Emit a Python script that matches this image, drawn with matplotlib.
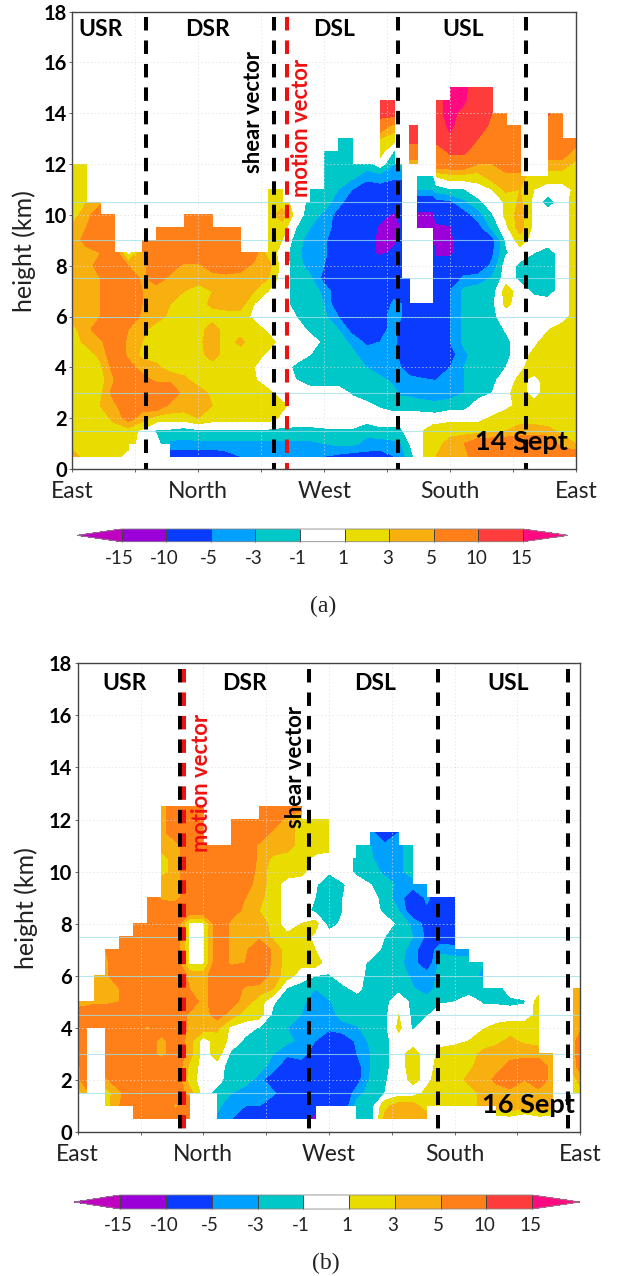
import numpy as np
import matplotlib
matplotlib.use('Agg')
import matplotlib.pyplot as plt
from matplotlib.transforms import ScaledTranslation

plt.rcParams['font.family'] = ['Lato', 'DejaVu Sans']
plt.rcParams['lines.scale_dashes'] = False

N = np.nan

# colour classes of the radial wind anomaly
levels = [-15, -10, -5, -3, -1, 1, 3, 5, 10, 15]
level_labels = ['-15', '-10', '-5', '-3', '-1', '1', '3', '5', '10', '15']
colors = ['#C000C0', '#9B00D8', '#0A3CFF', '#00A0FF', '#00C8C8', '#FFFFFF',
          '#E8DC00', '#F8B010', '#FF8018', '#FF3C3C', '#FF0A80']

# 14 Sept: azimuth from East (deg), height (km), one row per height
az_a = list(range(0, 240, 10)) + [235, 241, 247, 258, 260] + list(range(270, 370, 10))
height_a = [0.5 * k for k in range(1, 31)]
wind_a = [
    [4,2,2,2,0,N,N,-7,-7,-7,-7,-6,-5,-4.5,-4.5,-4.5,-5,-5,-5,-5.5,-6,-6,-6,-5, -4,-2,0,3,3, 4,4,7,7,7,7,7,7,7,7],
    [2,2,2,2,2,0,0,-3.5,-3.5,-3.5,-3.5,-3.5,-3.5,-3.5,-3.5,-3.5,-3.5,-3.5,-3,-2.5,-2.5,-3.5,-4,-3.5, -3,-1,0.5,2,2, 4,5,7,7,7,7,7,7,4,3],
    [2,2,2,2,2,0.5,-1.3,-1.5,-2,-1.5,-1.5,-1.5,-1.5,-1.5,-1.5,-1.5,-1.5,-1.5,-1.3,-1.2,-1.2,-2.5,-1.5,-1.5, -1.3,0,0.5,2,2, 2,2,2,2.5,3,4,4,3.5,2.5,2],
    [2,2,2,3.5,6,4,2,2,2,3,2,2,2,2,2,0.5,0,0,0,0,0,0,0,0, 0,0,0,0,0, 0.5,0.5,0.5,1.2,2,2,2,2,2,2],
    [2,2,3,4.5,7,6,7,4.5,4,4,3,2,2,2,2,1.5,0,0,0,0,0,-0.5,-1.3,-2, -2,-2,-2,-2.5,-2.5, -2,-2,0,0,0.5,1.5,2,2,2,2],
    [2,2,2.5,6,7,7,7,7,4,4,2.5,2,2,2,1.5,0,0,0,0,0,-1.3,-2,-2,-2.5, -3.5,-3.5,-4,-4,-4, -4,-3,-2,-1,0.5,2,0,2,2,2],
    [2,2,2,5,7,6,4.5,4.5,3.5,2,2,2,2,1.2,0,0,-1,-2,-2,-2,-2,-2,-2.5,-3.5, -4,-4,-4.5,-5,-5, -4,-3,-2,-1.5,0,1.5,0.3,2,2,2],
    [2,2,2.5,6,6,4,3.5,2,2,2,2,2,2,1,0,0,-1.5,-2,-2,-2,-2,-3,-4,-4, -5,-7,-7,-7,-7, -5,-3,-2,-2,-1,0.5,2,2,2,2],
    [2,2,3.5,7,4.5,2.5,2,2,2,2.2,4,2,2,2,0.5,0,0,-1,-2,-2,-2.5,-4,-4.5,-4, -7,-7,-7,-7,-7, -6,-3.5,-2,-2,-1.5,0,1.5,2,2,2],
    [2,3.5,4.5,7,4.5,3,2,2,2,2.5,4,2,3.5,2,2,0,0,0,-1.5,-2,-3.5,-5.5,-5,-4, -7,-7,-7,-7,-7, -5,-2.5,-2,-2,-1.5,0,0.5,2,2,2],
    [2.5,4,7,7,5,3.5,2,2,2,2,4,2,2,2,0.5,0,0,-1.5,-2,-3,-6,-7,-6,-4, -6,-7,-7,-7,-7, -5,-2.5,-2,-2,-0.8,0,0,0.8,2,2],
    [3.5,4,5,7,7,4.5,4,2.5,2,2,2,2,2,0.5,0,0,-1,-2,-2.5,-5,-7,-7,-6,-4, -5,-7,-7,-7,-7, -5,-2.5,-2,-1.5,0,0,0,0,0,2],
    [4,4,5,7,7,5,4.5,3,2,2,3.5,4,4,1,0,0,-2,-2,-3,-7,-7,-7,-7,-4.5, -5,-7,-7,-7,-7, -5,-2.5,-2,-1.5,1.5,0,0,0,0,2],
    [3.5,4,5,7,7,5,4,4,3,2,3,4,4,3,1,0,-2,-2,-3.5,-7,-7,-7,-7,-6, -5,-7,N,-7,-7, -5,-2.5,-2,-2,2,0,-1.5,-2,0,2],
    [3.5,4,5,7,7,4.5,6,4.5,4,4,4,4,4,4,3,0,-2,-2.5,-6,-7,-7,-7,-7,-7, -6,-7,N,-7,-7, -7,-4.5,-4,-2.8,0,-1.5,-1.5,-2,0,2],
    [3,4,6,7,5,4.5,6,6,4.5,4.5,6,7,6,4.5,4,0,-2,-4,-5,-7,-7,-7,-7,-7, -7,N,N,-7,-7, -7,-7,-7,-4.5,0,-1.5,-2,-2,0,2],
    [3,4,5,7,0,4.5,7,7,7,7,7,7,7,6,2,0.3,-2.5,-4,-4.5,-7,-7,-8,-11,-9, -7,N,N,-8,-11, -11,-7,-7,-5.5,-1.2,0,-1,-2,0,2],
    [3.5,6,7,7,N,7,7,7,7,7,7,7,7,N,2,1,-2,-4,-4.5,-7,-7,-8,-11,-11, -9,N,N,-10,-11, -11,-7,-7,-6,-0.8,2,0,0,0,2],
    [3.5,5,7,7,N,N,7,7,7,7,7,7,7,N,2,2,-1,-3,-4,-6,-7,-7,-11,-11, -10,N,-11,-11,-11, -10.5,-7,-6,-2.5,0.5,4,0.3,0,0,2],
    [2,4,7,7,N,N,N,N,7,7,7,N,N,N,2,4,0,-2,-3.5,-6,-7,-7,-8,-11, -7,N,-11,-11,-8, -7,-6,-4,-1.2,1.5,4,0.3,0,0,2],
    [2,3,4.5,N,N,N,N,N,N,N,N,N,N,N,2,2,0,-1.5,-2,-4,-7,-7,-7,-7, -7,N,-7,-7,-6, -5.5,-3.5,-1.5,0,1.2,3.5,0.3,-2,0,2],
    [2,2] + [N]*12 + [2,2,N,-1.2,-2,-3,-5,-7,-6,-7, -7,N,-3,-3,-2, -1.2,-1.1,0,1,3.5,3,1,0,0,1.5],
    [2,2] + [N]*16 + [-1.5,-2,-2.5,-4,-4,-4.5, -4.5,N,-1.5,-1.5,1, 2,2,2,4,4,4,1.5,2,2,2],
    [2,2] + [N]*16 + [-1.2,-2,-2,-2,0,-3, -2,4,4,N,7, 7,7,5,5,7,7,N,4,4,2.5],
    [N]*18 + [-1.2,-1.5,-1.5,N,2,-1.2, N,7,7,N,7, 11,11,7,7,7,7,N,7,7,4],
    [N]*19 + [-1.5,-1.5,N,3,2, N,12,12,N,12, 14,12,10,7,7,7,N,7,7,7],
    [N]*22 + [7,4, N,12,12,N,12, 16,12,12,9,7,7,N,8,7,N],
    [N]*22 + [12,12, N,N,N,N,14, 16,14,12,10,7,N,N,10.5,7,N],
    [N]*22 + [12,12, N,N,N,N,14, 16,15.5,12,12,N,N,N,N,N,N],
    [N]*24 + [N,N,N,N,N, 16,16,12,12,N,N,N,N,N,N],
]

# 16 Sept
az_b = [0, 6, 12] + list(range(20, 350, 10)) + [347, 355, 360]
height_b = [0.5 * k for k in range(1, 26)]
wind_b = [
    [N,N,N,N,N,7,7,7,7,7,N,-3.5,-5,-7,-7,-7,-7,-7,-12,N,N,-2,-2,3.5,4.5,4,4,N,N,N,N,0,0,-1.4,0,0,N,N,N],
    [N,N,N,2,5,7,7,7,4.5,7,N,-2.5,-4.5,-5,-5,-7,-7,-7,-7,-7,-7,-2,-2,2.5,4,4,2,2,2,2,3.5,4,4.5,4.5,4.5,4,N,N,N],
    [2,4,N,2,4.5,7,7,7,7,4,0,-2,-3,-4,-4,-4.5,-7,-7,-7,-7,-7,-4,-2,-1,0,0,1.5,2,2,2,3.5,4,4,4.5,4,4,N,2,2],
    [4,7,N,4.5,7,7,7,7,7,2,0,0,-2.5,-2,-4,-7,-7,-7,-7,-7,-7,-6,-2.5,-1.2,0,1.5,0.5,2,2,3.5,4,5.5,7,5,7,4,N,2,4],
    [4,7,N,7,7,7,7,7,7,2.5,0,0,-2,-2,-2,-4,-7,-7,-7,-7,-7,-6,-3,-1.5,0,2,0,2,2,2.5,4,4.5,5.5,6,6,4.5,N,4,6],
    [7,7,N,7,7,7,7,4,7,4,0,2,-1.5,-2,-2,-3,-4.5,-3.5,-7,-7,-7,-5,-3,-1.5,0,2,0,1.5,2,2,3.5,4,4.5,4.5,4.5,3,N,4,7],
    [7,7,N,7,7,7,7,4,7,4,0,2,0.5,-1.5,-2,-2,-2.5,-3.5,-5,-7,-7,-4.5,-2.5,-1.5,0,0,0,0.5,0.5,1,2,2.5,3.5,2.5,2,N,N,4,7],
    [7,7,7,7,7,7,4.5,7,7,4.5,4,3.5,0.5,0,-1.2,-2,-3,-3.5,-4.5,-4.5,-3.5,-3.2,-2,-1.5,1.5,-1.3,0,0,0,0.5,0.8,1.5,2,2,2,N,N,4,4],
    [7,7,7,7,7,7,7,7,7,4.5,4,6,4,2,2,-1.5,-2,-3,-4,-3.5,-2.5,-2,-2,-1.5,1,-1.5,-1.2,0,0,0,0,0,0,0,1.5,N,N,4,4],
    [3.5,4,4.5,4.5,5,7,7,7,7,7,4,7,6,4,2,-0.8,-2,-2.5,-4,-3.2,-2,-2,-2,-1.5,0,-1.5,-2,-1.2,-1,0,-1.2,-1.3,-1.5,-1.2,2,N,N,3.5,3.5],
    [N,N,3.5,4.5,5,7,7,7,7,5,4,7,7,4.5,4,3,-1.3,-2,-3,-2.2,-1.5,-0.5,-2,-2,-1.5,-2.8,-4,-2,-1.5,-2,-2,-2,0,0,0,N,N,3,3],
    [N,N,4,4.5,7,7,7,7,7,4.5,4,7,7,7,7,4,2,0,-1,-1.2,0,0,-2,-2,-2,-3.5,-4,-2.5,-2,-2,-3.5] + [N]*8,
    [N,N,N,4.5,7,7,7,7,7,0.5,0.5,7,4.5,5,7,4.5,2,1.5,2,0,0,0,-1.5,-2,-2.5,-4,-7,-2,-2,-2,-2.8] + [N]*8,
    [N,N,N,5,7,7,7,7,7,0.5,0.5,7,4.5,4.5,7,4.5,2,2,1,0,0,0,0,-1.5,-2,-4,-7,-3.5,-4,-4] + [N]*9,
    [N,N,N,N,7,7,7,7,7,0.5,0.5,7,4.5,4,4.5,2.5,1.5,2,0.5,0,0,0,0,-1,-2,-3,-5.5,-7,-7] + [N]*10,
    [N,N,N,N,N,7,7,7,7,0.5,0.5,7,4.5,5,4.5,2,0,1,2,-2,-0.5,0,0,0,-1.5,-3.5,-6,-7,-7] + [N]*10,
    [N,N,N,N,N,N,7,7,7,7,7,7,6,4.5,3,2,0,0,-1.5,-2,-1,0,0,-1.5,-3,-7,-5.5,-7,-7] + [N]*10,
    [N,N,N,N,N,N,7,4.5,4,7,7,7,7,5,3.5,2,0,0,-1,-2,-1,0,0,-2,-4,-7,-4.5,-7,-7] + [N]*10,
    [N]*7 + [4.5,4,7,7,7,7,6,4,2,0,0,-0.8,-2,-1.2,0,-1,-2,-3.5,-4,-4.5] + [N]*12,
    [N]*7 + [2,4,7,7,7,7,7,4,2,2,1.5,0,-0.8,0,-1.5,-2,-3.5,-3.5,-2] + [N]*13,
    [N]*7 + [2,4,7,7,7,7,7,4.5,2.5,2,2,0.5,0,0,-1.5,-2.8,-4,-3.5,-2] + [N]*13,
    [N]*7 + [4,4,7,7,7,7,7,4.5,4.5,4,2,2,2,N,-1.5,-3,-4.5,-3.5,-2] + [N]*13,
    [N]*7 + [4,7,7,7,N,7,7,7,4.5,4,2,2,2,N,N,-4.5,-7,-5] + [N]*14,
    [N]*7 + [4,7,7,7,N,7,7,7,7,4,2,2,2] + [N]*19,
    [N]*7 + [4,7,7,7,N,N,N,7,7,7,7] + [N]*21,
]

compass_ticks = [0, 90, 180, 270, 360]
compass_minor = [45, 135, 225, 315]
compass_labels = ['East', 'North', 'West', 'South', 'East']
height_ticks = list(range(0, 20, 2))

W, H = 618, 1276
fig = plt.figure(figsize=(W / 100, H / 100), dpi=100)


def px_axes(left, top, right, bottom):
    return fig.add_axes([left / W, 1 - bottom / H, (right - left) / W, (bottom - top) / H])


def draw_panel(ax, az, heights, wind, cyan_lines, black_az, red_az):
    z = np.ma.masked_invalid(np.array(wind, dtype=float))
    cf = ax.contourf(az, heights, z, levels=levels, colors=colors[1:-1], extend='both',
                     corner_mask=False)
    cf.cmap.set_under(colors[0])
    cf.cmap.set_over(colors[-1])
    cf.changed()
    ax.set_xlim(0, 360)
    ax.set_ylim(0, 18)
    ax.set_xticks(compass_ticks)
    ax.set_xticklabels(compass_labels, fontsize=16.5, color='#222222')
    ax.set_xticks(compass_minor, minor=True)
    ax.set_yticks(height_ticks)
    for t in ax.get_yticklabels():
        t.set_fontweight('bold')
        t.set_fontsize(14.5)
    ax.tick_params(axis='x', which='both', direction='out', length=2.5, width=0.7, pad=6, color='#666666')
    ax.tick_params(axis='y', direction='out', length=2.5, width=0.7, pad=1.5, color='#666666')
    ax.grid(True, axis='both', which='both', linestyle=':', linewidth=0.5, color='#dddddd')
    ax.set_axisbelow(False)
    for h in cyan_lines:
        ax.axhline(h, color='#9fe0ea', linewidth=0.8, alpha=0.75, zorder=3)
    for a in black_az:
        ax.plot([a, a], [17.8, 0], color='black', linewidth=2.9, dashes=(9.7, 7.2), zorder=5)
    ax.plot([red_az, red_az], [17.8, 0], color='#EE1111', linewidth=2.9, dashes=(9.7, 7.2), zorder=4)
    for s in ax.spines.values():
        s.set_color('#444444')
        s.set_linewidth(1.0)
        s.set_zorder(6)
    return cf


def px_text(x, y, s, **kw):
    fig.text(x / W, 1 - y / H, s, ha='center', va='center', **kw)


def draw_bar(cf, left, top, right, bottom, ext):
    cax = px_axes(left, top, right, bottom)
    cb = fig.colorbar(cf, cax=cax, orientation='horizontal', spacing='uniform',
                      extendfrac=ext, drawedges=True)
    cb.set_ticks(levels)
    cb.set_ticklabels(level_labels)
    cb.ax.tick_params(length=0, labelsize=13.5, pad=6, labelcolor='#222222')
    shift = ScaledTranslation(-2 / 100, 0, fig.dpi_scale_trans)
    for t in cb.ax.get_xticklabels():
        t.set_transform(t.get_transform() + shift)
    cb.outline.set_edgecolor('#888888')
    cb.outline.set_linewidth(0.6)
    cb.dividers.set_color('#444444')
    cb.dividers.set_linewidth(0.7)


ax_a = px_axes(72.3, 11.5, 576, 469)
cf_a = draw_panel(ax_a, az_a, height_a, wind_a, [1.5, 3, 6, 7.5, 9, 10.5], [53, 144, 233, 324.5], 153.4)
ax_b = px_axes(77.7, 663.3, 580.3, 1132)
cf_b = draw_panel(ax_b, az_b, height_b, wind_b, [1.5, 3, 4.5, 6, 7.5], [73.4, 165.7, 257.8, 351.5], 76.2)

draw_bar(cf_a, 77, 529, 568, 541.7, [0.111, 0.112])
draw_bar(cf_b, 74, 1195, 580, 1209, [0.112, 0.116])

for x, y, s in [(101, 30, 'USR'), (207.5, 30, 'DSR'), (334, 30, 'DSL'), (463, 30, 'USL'),
                (124.5, 683, 'USR'), (245, 683, 'DSR'), (375.5, 683, 'DSL'), (508, 683, 'USL')]:
    px_text(x, y, s, fontsize=16.5, fontweight='bold', color='black', zorder=10)

px_text(521, 442, '14 Sept', fontsize=19.5, fontweight='bold', color='black', zorder=10)
px_text(528, 1105, '16 Sept', fontsize=19.5, fontweight='bold', color='black', zorder=10)
px_text(253, 112, 'shear vector', fontsize=15.8, fontweight='bold', rotation=90, color='black', zorder=10)
px_text(302, 128, 'motion vector', fontsize=15.8, fontweight='bold', rotation=90, color='#EE1111', zorder=10)
px_text(295, 767, 'shear vector', fontsize=15.8, fontweight='bold', rotation=90, color='black', zorder=10)
px_text(201, 783, 'motion vector', fontsize=15.8, fontweight='bold', rotation=90, color='#EE1111', zorder=10)

px_text(24, 251, 'height (km)', fontsize=18, rotation=90, color='#222222')
px_text(26, 908, 'height (km)', fontsize=18, rotation=90, color='#222222')

px_text(323, 606, '(a)', fontsize=17, family='Liberation Serif', color='#222222')
px_text(326, 1263, '(b)', fontsize=17, family='Liberation Serif', color='#222222')

fig.savefig('out.png', dpi=100)
